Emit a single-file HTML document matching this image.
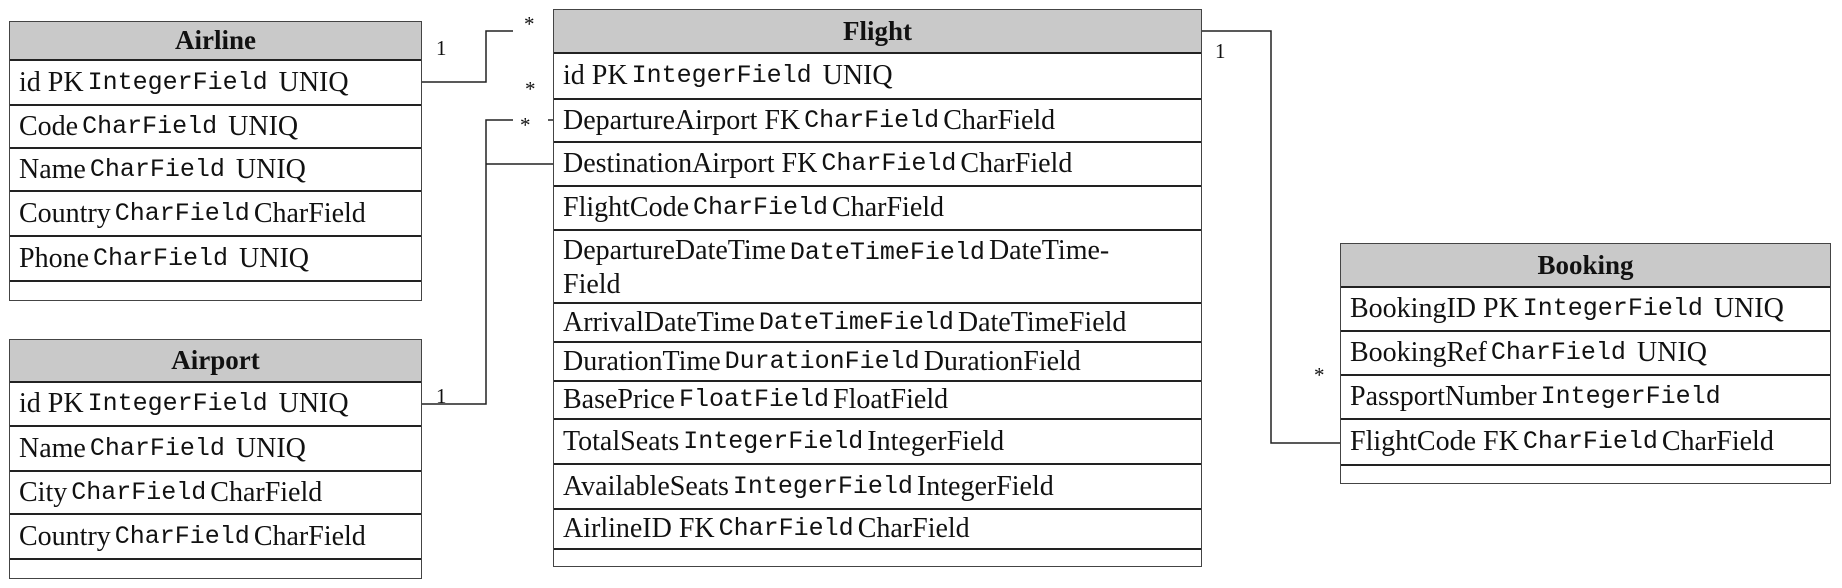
<!DOCTYPE html>
<html><head><meta charset="utf-8"><style>
body{margin:0;width:1842px;height:588px;background:#fff;position:relative;overflow:hidden;font-family:"Liberation Serif",serif;color:#111}
.box{position:absolute;border:1.5px solid #444;box-sizing:border-box;background:#fff}
.h{background:#c9c9c9;font-weight:bold;text-align:center;font-size:27px;box-sizing:border-box;border-bottom:2px solid #222;display:flex;align-items:center;justify-content:center}
.r{box-sizing:border-box;border-bottom:2px solid #222;font-size:28px;padding-left:9px;display:flex;align-items:center;white-space:nowrap;line-height:32px}
.r:last-child{border-bottom:none}
.m{font-family:"Liberation Mono",monospace;font-size:25px;margin:0 4px}
.lbl{position:absolute;font-size:21px}
</style></head><body>
<svg width="1842" height="588" style="position:absolute;left:0;top:0" fill="none" stroke="#222" stroke-width="1.5">
<polyline points="421,82 486,82 486,31 513,31"/>
<polyline points="421,404 486,404 486,120 513,120"/>
<line x1="548" y1="120" x2="553" y2="120"/>
<line x1="486" y1="164" x2="553" y2="164"/>
<polyline points="1201,31 1271,31 1271,443 1340,443"/>
</svg>
<div class="lbl" style="left:436px;top:36px">1</div>
<div class="lbl" style="left:524px;top:12px">*</div>
<div class="lbl" style="left:525px;top:77px">*</div>
<div class="lbl" style="left:520px;top:113px">*</div>
<div class="lbl" style="left:436px;top:384px">1</div>
<div class="lbl" style="left:1215px;top:39px">1</div>
<div class="lbl" style="left:1314px;top:363px">*</div>

<div class="box" style="left:9px;top:21px;width:413px;height:280px">
<div class="h" style="height:39px">Airline</div>
<div class="r" style="height:45px">id PK<span class="m">IntegerField</span>&nbsp;UNIQ</div>
<div class="r" style="height:43px">Code<span class="m">CharField</span>&nbsp;UNIQ</div>
<div class="r" style="height:43px">Name<span class="m">CharField</span>&nbsp;UNIQ</div>
<div class="r" style="height:45px">Country<span class="m">CharField</span>CharField</div>
<div class="r" style="height:45px">Phone<span class="m">CharField</span>&nbsp;UNIQ</div>
<div class="r" style="height:18px"></div>
</div>

<div class="box" style="left:9px;top:339px;width:413px;height:240px">
<div class="h" style="height:43px">Airport</div>
<div class="r" style="height:44px">id PK<span class="m">IntegerField</span>&nbsp;UNIQ</div>
<div class="r" style="height:45px">Name<span class="m">CharField</span>&nbsp;UNIQ</div>
<div class="r" style="height:43px">City<span class="m">CharField</span>CharField</div>
<div class="r" style="height:45px">Country<span class="m">CharField</span>CharField</div>
<div class="r" style="height:18px"></div>
</div>

<div class="box" style="left:553px;top:9px;width:649px;height:558px">
<div class="h" style="height:44px">Flight</div>
<div class="r" style="height:46px">id PK<span class="m">IntegerField</span>&nbsp;UNIQ</div>
<div class="r" style="height:43px">DepartureAirport FK<span class="m">CharField</span>CharField</div>
<div class="r" style="height:44px">DestinationAirport FK<span class="m">CharField</span>CharField</div>
<div class="r" style="height:44px">FlightCode<span class="m">CharField</span>CharField</div>
<div class="r" style="height:73px;display:block;padding-top:4px">DepartureDateTime<span class="m">DateTimeField</span>DateTime-<br>Field</div>
<div class="r" style="height:39px">ArrivalDateTime<span class="m">DateTimeField</span>DateTimeField</div>
<div class="r" style="height:39px">DurationTime<span class="m">DurationField</span>DurationField</div>
<div class="r" style="height:38px">BasePrice<span class="m">FloatField</span>FloatField</div>
<div class="r" style="height:45px">TotalSeats<span class="m">IntegerField</span>IntegerField</div>
<div class="r" style="height:45px">AvailableSeats<span class="m">IntegerField</span>IntegerField</div>
<div class="r" style="height:40px">AirlineID FK<span class="m">CharField</span>CharField</div>
<div class="r" style="height:17px"></div>
</div>

<div class="box" style="left:1340px;top:243px;width:491px;height:241px">
<div class="h" style="height:44px">Booking</div>
<div class="r" style="height:44px">BookingID PK<span class="m">IntegerField</span>&nbsp;UNIQ</div>
<div class="r" style="height:44px">BookingRef<span class="m">CharField</span>&nbsp;UNIQ</div>
<div class="r" style="height:44px">PassportNumber<span class="m">IntegerField</span></div>
<div class="r" style="height:46px">FlightCode FK<span class="m">CharField</span>CharField</div>
<div class="r" style="height:17px"></div>
</div>
</body></html>
